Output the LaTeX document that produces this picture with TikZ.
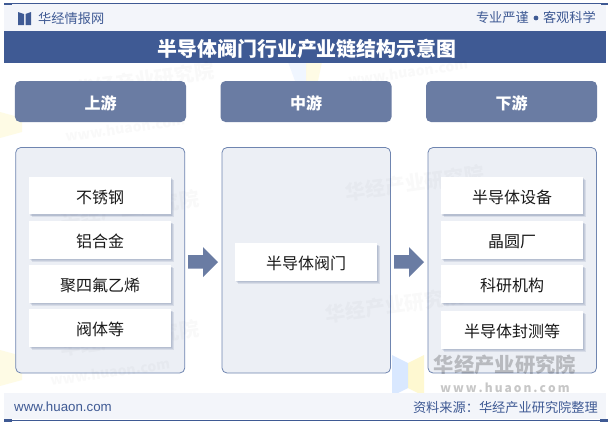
\documentclass[tikz,border=0pt]{standalone}
\usepackage{fontspec}
\setmainfont{Noto Sans CJK SC}
\newfontfamily\urlfont{Liberation Sans}
\usetikzlibrary{shadows}
\definecolor{navy}{HTML}{3F5A94}
\definecolor{band}{HTML}{F3F5FA}
\definecolor{head}{HTML}{6A7CA3}
\definecolor{panelfill}{HTML}{ECEFF5}
\definecolor{panelline}{HTML}{6F85B0}
\definecolor{shade}{HTML}{5A6C94}
\tikzset{
 x=1bp,y=-1bp,
 headbox/.style={fill=head,rounded corners=5bp,minimum width=171bp,minimum height=41bp,inner sep=0,text height=15bp,text depth=0bp,text=white,font=\fontsize{16bp}{18bp}\selectfont\bfseries},
 panelbox/.style={fill=panelfill,draw=panelline,line width=.8bp,rounded corners=5bp,inner sep=0},
 softshadow/.style={general shadow={fill=shade,opacity=.14,shadow xshift=#1bp,shadow yshift=-#1bp}},
 cardbox/.style={fill=white,inner sep=0,minimum width=142bp,minimum height=37.5bp,text height=15bp,text depth=0bp,text=black!90,font=\fontsize{16bp}{18bp}\selectfont,
   softshadow=3,softshadow=2.2,softshadow=1.4},
 flowarrow/.style={fill=head,draw=none},
 bandtext/.style={text=navy,inner sep=0,font=\fontsize{13.2bp}{15bp}\selectfont},
 faintcn/.style={inner sep=0,text=black,opacity=.025,rotate=8,font=\fontsize{20bp}{22bp}\selectfont\bfseries},
 fainten/.style={inner sep=0,text=black,opacity=.025,rotate=8,font=\fontsize{14bp}{16bp}\selectfont\bfseries},
}
\begin{document}
\begin{tikzpicture}
\useasboundingbox (0,0) rectangle (611,424);
\fill[white] (0,0) rectangle (611,424);
% faint logos
\fill[yellow!80!orange,opacity=.10] (0,112) -- (22,118) -- (22,132) -- (0,138) -- cycle;
\fill[yellow!80!orange,opacity=.10] (0,350) -- (22,356) -- (22,380) -- (0,386) -- cycle;
\fill[blue!60!cyan,opacity=.06] (288,62) -- (306,62) -- (306,81) -- (295,81) -- cycle;
\fill[yellow!80!orange,opacity=.10] (306,62) -- (322,62) -- (318,81) -- (306,81) -- cycle;
% header
\fill[band] (4,3) rectangle (606,31);
\draw[navy,line width=.8bp] (4,3.5) -- (606,3.5);
\fill[navy] (4,2.5) rectangle (12,4.5);
\fill[navy] (601,2.5) rectangle (608,4.5);
\fill[navy] (4,31) rectangle (606,63);
\node[text=white,inner sep=0,font=\fontsize{19.9bp}{22bp}\selectfont\bfseries] (title) at (307,49) {半导体阀门行业产业链结构示意图};
\fill[navy] (18,12) -- (24,14) -- (24,25) -- (18,25) -- cycle;
\fill[navy] (31,12) -- (25.5,14) -- (25.5,25) -- (31,25) -- cycle;
\node[bandtext,anchor=west] (brand) at (38,18) {华经情报网};
\node[bandtext,anchor=east] (sloganb) at (596,17.5) {客观科学};
\node[bandtext,anchor=east] (slogana) at (529,17.5) {专业严谨};
\fill[navy] (536,18) circle (2.4);
% panels
\node[panelbox,minimum width=169bp,minimum height=225.5bp] (p1) at (100.25,260.25) {};
\node[panelbox,minimum width=168.5bp,minimum height=225.5bp] (p2) at (306.25,260.25) {};
\node[panelbox,minimum width=168.5bp,minimum height=225.5bp] (p3) at (512.25,260.25) {};
% faint watermark text
\node[faintcn] (f1) at (145,80) {华经产业研究院};
\node[fainten] (f1b) at (125,128) {www.huaon.com};
\node[faintcn] (f2) at (415,183) {华经产业研究院};
\node[fainten] (f2b) at (408,72) {www.huaon.com};
\node[faintcn] (f3) at (130,208) {华经产业研究院};
\node[faintcn] (f4) at (130,338) {华经产业研究院};
\node[fainten] (f4b) at (110,372) {www.huaon.com};
\node[faintcn] (f5) at (395,305) {华经产业研究院};
% heads
\node[headbox] (h1) at (100.5,101.5) {上游};
\node[headbox] (h2) at (306,101.5) {中游};
\node[headbox] (h3) at (511.5,101.5) {下游};
% cards
\node[cardbox] (a1) at (100,195.5) {不锈钢};
\node[cardbox] (a2) at (100,240) {铝合金};
\node[cardbox] (a3) at (100,284) {聚四氟乙烯};
\node[cardbox] (a4) at (100,328) {阀体等};
\node[cardbox] (b1) at (306,262) {半导体阀门};
\node[cardbox] (c1) at (512,195.5) {半导体设备};
\node[cardbox] (c2) at (512,240) {晶圆厂};
\node[cardbox] (c3) at (512,284) {科研机构};
\node[cardbox] (c4) at (512,330) {半导体封测等};
% arrows
\fill[flowarrow] (188,255) -- (203,255) -- (203,247) -- (218,262) -- (203,277) -- (203,268.5) -- (188,268.5) -- cycle;
\fill[flowarrow] (394,255) -- (409,255) -- (409,247) -- (424,262) -- (409,277) -- (409,268.5) -- (394,268.5) -- cycle;
% watermark
\fill[blue!60!cyan,opacity=.15] (392,355) -- (408,363) -- (408,388) -- (392,396) -- cycle;
\fill[yellow!80!orange,opacity=.18] (424,355) -- (408,363) -- (408,388) -- (424,396) -- cycle;
\node[inner sep=0,text=black,opacity=.22,font=\fontsize{20.3bp}{22bp}\selectfont\bfseries] (wm1) at (505,365) {华经产业研究院};
\node[inner sep=0,text=black,opacity=.22,font=\fontsize{12bp}{14bp}\selectfont\bfseries] (wm2) at (505,388) {w\,w\,w\,.\,h\,u\,a\,o\,n\,.\,c\,o\,m};
% footer
\fill[band] (4,393) rectangle (606,419);
\draw[navy,line width=.8bp] (4,420) -- (606,420);
\fill[navy] (4,419) rectangle (12,421.5);
\fill[navy] (600,419) rectangle (608,421.5);
\node[bandtext,anchor=west,font=\urlfont\fontsize{13.3bp}{15bp}\selectfont] (url) at (14,406.5) {www.huaon.com};
\node[bandtext,anchor=east] (src) at (598,407) {资料来源：华经产业研究院整理};
\end{tikzpicture}
\end{document}
